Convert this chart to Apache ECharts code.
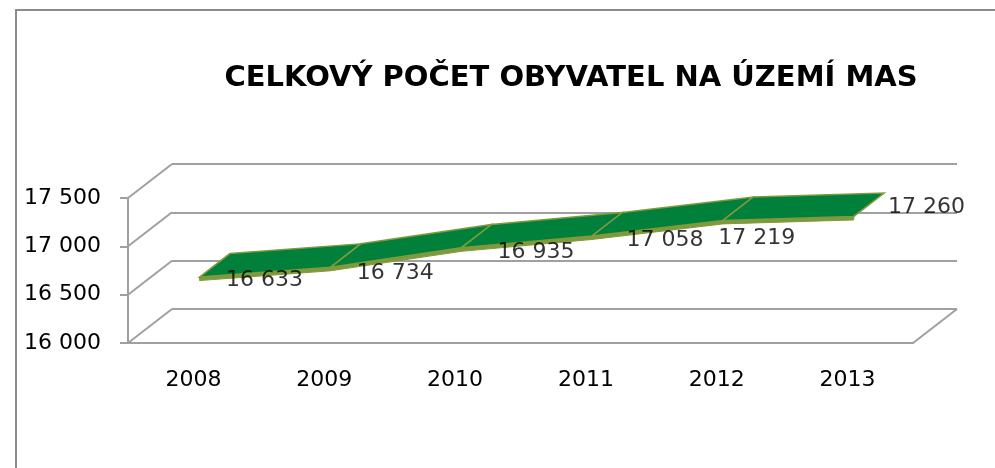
<!DOCTYPE html>
<html>
<head>
<meta charset="utf-8">
<script src="https://cdn.jsdelivr.net/npm/echarts@6/dist/echarts.min.js"></script>
<style>
	html, body { margin: 0; padding: 0; background: #fff; }
	#chart { width: 995px; height: 468px; }
</style>
</head>
<body>
<div id="chart"></div>
<script>
const years = ['2008', '2009', '2010', '2011', '2012', '2013']
const population = [16633, 16734, 16935, 17058, 17219, 17260]
const yTicks = [16000, 16500, 17000, 17500]

// offset of the back wall from the front plane (fake 3D)
const DEPTH = [44, -34]
const RIBBON_FRONT = 0.14
const RIBBON_BACK = 0.83
// Excel places the 3D labels a bit unevenly
const labelShift = [[71, -2], [71, 1], [81, 0], [79, 0], [40, 13], [79, -14]]

const FONT = 'DejaVu Sans'
const GRID_COLOR = '#a0a0a0'
const GREEN = '#00803a'
const OLIVE = '#7f9a3c'

function fmt(v) {
	return String(v).replace(/\B(?=(\d{3})+(?!\d))/g, ' ')
}

function shift(p, f) {
	return [p[0] + DEPTH[0] * f, p[1] + DEPTH[1] * f]
}

const segments = []
population.forEach((v, i) => {
	if (i < population.length - 1) segments.push([i, v, i + 1, population[i + 1]])
})

// left wall diagonals at each tick, plus right floor edge
const wallEdges = yTicks.map(v => [0, v]).concat([[1, yTicks[0]]])

function renderRibbon(params, api) {
	const a = api.coord([api.value(0), api.value(1)])
	const b = api.coord([api.value(2), api.value(3)])
	const af = shift(a, RIBBON_FRONT)
	const bf = shift(b, RIBBON_FRONT)
	const ab = shift(a, RIBBON_BACK)
	const bb = shift(b, RIBBON_BACK)
	return {
		type: 'group',
		children: [
			{
				type: 'polygon',
				shape: { points: [af, bf, [bf[0], bf[1] + 3.5], [af[0], af[1] + 3.5]] },
				style: { fill: OLIVE, stroke: OLIVE, lineWidth: 1 }
			},
			{
				type: 'polygon',
				shape: { points: [af, bf, bb, ab] },
				style: { fill: GREEN, stroke: OLIVE, lineWidth: 1.5 }
			}
		]
	}
}

function renderWall(params, api) {
	const cs = params.coordSys
	const y = api.coord([0, api.value(1)])[1]
	const x = api.value(0) ? cs.x + cs.width : cs.x
	return {
		type: 'line',
		shape: { x1: x, y1: y, x2: x + DEPTH[0], y2: y + DEPTH[1] },
		style: { stroke: GRID_COLOR, lineWidth: 2 }
	}
}

const chart = echarts.init(document.getElementById('chart'))

chart.setOption({
	animation: false,
	backgroundColor: '#fff',
	title: {
		text: 'CELKOVÝ POČET OBYVATEL NA ÚZEMÍ MAS',
		left: 566,
		top: 59,
		textAlign: 'center',
		textStyle: { fontFamily: FONT, fontWeight: 'bold', fontSize: 29, color: '#000' }
	},
	graphic: [{
		type: 'rect',
		shape: { x: 16, y: 10, width: 1100, height: 600 },
		style: { fill: 'none', stroke: '#8c8c8c', lineWidth: 2 },
		silent: true
	}],
	grid: [
		{ left: 128, right: 82, top: 198, bottom: 125 },
		{ left: 128 + DEPTH[0], right: 82 - DEPTH[0], top: 198 + DEPTH[1], bottom: 125 - DEPTH[1] }
	],
	xAxis: [
		{
			gridIndex: 0,
			type: 'category',
			data: years,
			axisLine: { lineStyle: { color: GRID_COLOR, width: 2 } },
			axisTick: { length: 8, lineStyle: { color: GRID_COLOR, width: 2 } },
			axisLabel: { margin: 26, fontFamily: FONT, fontSize: 22, color: '#000' }
		},
		{ gridIndex: 1, type: 'category', data: years, show: false }
	],
	yAxis: [
		{
			gridIndex: 0,
			type: 'value',
			min: 16000,
			max: 17500,
			interval: 500,
			axisLine: { show: true, lineStyle: { color: GRID_COLOR, width: 2 } },
			axisTick: { show: true, length: 8, lineStyle: { color: GRID_COLOR, width: 2 } },
			splitLine: { show: false },
			axisLabel: { margin: 27, fontFamily: FONT, fontSize: 22, color: '#000', formatter: fmt }
		},
		{
			gridIndex: 1,
			type: 'value',
			min: 16000,
			max: 17500,
			interval: 500,
			axisLine: { show: false },
			axisTick: { show: false },
			axisLabel: { show: false },
			splitLine: { show: true, lineStyle: { color: GRID_COLOR, width: 2 } }
		}
	],
	series: [
		{
			type: 'custom',
			xAxisIndex: 0,
			yAxisIndex: 0,
			data: wallEdges,
			renderItem: renderWall,
			silent: true,
			z: 1
		},
		{
			type: 'custom',
			xAxisIndex: 0,
			yAxisIndex: 0,
			data: segments,
			renderItem: renderRibbon,
			encode: { x: [0, 2], y: [1, 3] },
			z: 2
		},
		{
			type: 'scatter',
			xAxisIndex: 0,
			yAxisIndex: 0,
			data: population.map((v, i) => ({
				value: [i, v],
				label: { offset: labelShift[i] }
			})),
			symbolSize: 1,
			itemStyle: { color: 'rgba(0,0,0,0)' },
			z: 5,
			label: {
				show: true,
				position: 'inside',
				fontFamily: FONT,
				fontSize: 22,
				color: '#000',
				formatter: p => fmt(p.value[1])
			}
		}
	]
})
</script>
</body>
</html>
